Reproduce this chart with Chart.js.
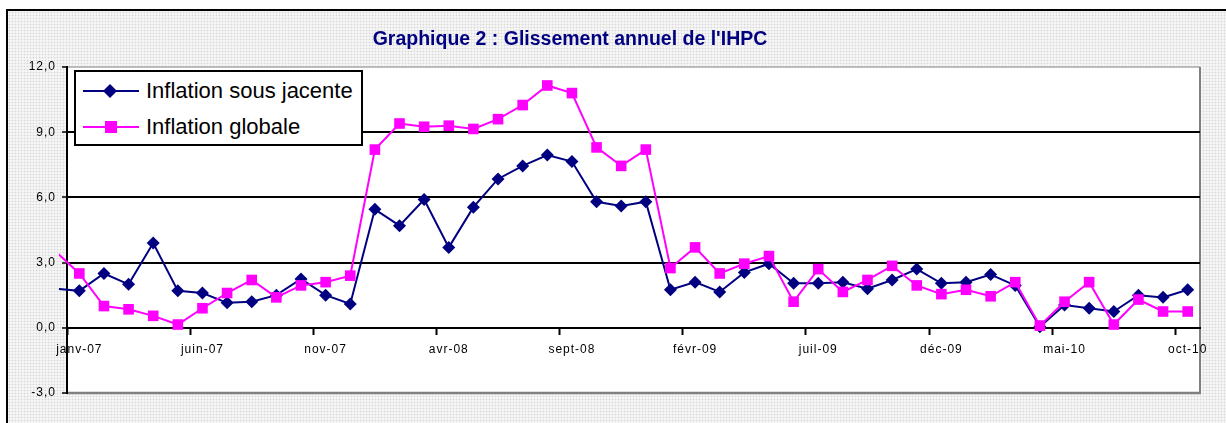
<!DOCTYPE html>
<html lang="fr">
<head>
<meta charset="utf-8">
<title>Graphique 2 : Glissement annuel de l'IHPC</title>
<script src="https://cdn.jsdelivr.net/npm/chart.js@4.4.1/dist/chart.umd.min.js"></script>
<style>
  html, body { margin: 0; padding: 0; background: #fff; }
  body { width: 1226px; height: 423px; position: relative; overflow: hidden;
         font-family: "Liberation Sans", Arial, sans-serif; }
  #frame { position: absolute; left: 6px; top: 9px; width: 1240px; height: 430px;
           border-left: 2px solid #000; border-top: 2px solid #000;
           background-color: #f6f6f6;
           background-image: radial-gradient(circle, #d8d8d8 0.8px, transparent 1.1px);
           background-size: 3px 3px; }
  #chart { position: absolute; left: 0; top: 0; }
  #title { position: absolute; left: 0; width: 1140px; top: 29px; text-align: center;
           font-size: 19.5px; line-height: 19.5px; font-weight: bold; color: #000080; }
  #legend { position: absolute; left: 74px; top: 70px; width: 285px; height: 72px;
            border: 2px solid #000; background: #fff; }
  #legend .item { position: absolute; left: 7px; height: 22px; line-height: 22px;
                  font-size: 22px; color: #000; white-space: nowrap; }
  #legend svg { position: absolute; left: 0; top: 3px; }
  #legend span { position: absolute; left: 63px; top: 0; }
</style>
</head>
<body>
<div id="frame"></div>
<canvas id="chart" width="1226" height="423"></canvas>
<div id="title">Graphique 2 : Glissement annuel de l'IHPC</div>
<div id="legend">
  <div class="item" style="top: 8px;">
    <svg width="56" height="16"><line x1="0" y1="8" x2="56" y2="8" stroke="#000080" stroke-width="2"/><polygon points="27,1 34,8 27,15 20,8" fill="#000080"/></svg>
    <span>Inflation sous jacente</span>
  </div>
  <div class="item" style="top: 44px;">
    <svg width="56" height="16"><line x1="0" y1="8" x2="56" y2="8" stroke="#ff00ff" stroke-width="2"/><rect x="22" y="2" width="12" height="12" fill="#ff00ff"/></svg>
    <span>Inflation globale</span>
  </div>
</div>
<script>
// Mois (déc-06 sert seulement au segment qui entre par la gauche)
const months = [
    'déc-06',
    'janv-07', 'févr-07', 'mars-07', 'avr-07', 'mai-07', 'juin-07', 'juil-07', 'août-07', 'sept-07', 'oct-07', 'nov-07', 'déc-07',
    'janv-08', 'févr-08', 'mars-08', 'avr-08', 'mai-08', 'juin-08', 'juil-08', 'août-08', 'sept-08', 'oct-08', 'nov-08', 'déc-08',
    'janv-09', 'févr-09', 'mars-09', 'avr-09', 'mai-09', 'juin-09', 'juil-09', 'août-09', 'sept-09', 'oct-09', 'nov-09', 'déc-09',
    'janv-10', 'févr-10', 'mars-10', 'avr-10', 'mai-10', 'juin-10', 'juil-10', 'août-10', 'sept-10', 'oct-10'
];

// Inflation sous jacente (%)
const coreInflation = [
    1.8,
    1.7, 2.5, 2.0, 3.9, 1.7, 1.6, 1.15, 1.2, 1.5, 2.25, 1.5, 1.1,
    5.45, 4.7, 5.9, 3.7, 5.55, 6.85, 7.45, 7.95, 7.65, 5.8, 5.6, 5.8,
    1.75, 2.1, 1.65, 2.55, 2.95, 2.05, 2.05, 2.1, 1.8, 2.2, 2.7, 2.05,
    2.1, 2.45, 1.95, 0.05, 1.05, 0.9, 0.75, 1.5, 1.4, 1.75
];

// Inflation globale (%)
const headlineInflation = [
    3.55,
    2.5, 1.0, 0.85, 0.55, 0.15, 0.9, 1.6, 2.2, 1.4, 1.95, 2.1, 2.4,
    8.2, 9.4, 9.25, 9.3, 9.15, 9.6, 10.25, 11.15, 10.8, 8.3, 7.45, 8.2,
    2.75, 3.7, 2.5, 2.95, 3.3, 1.2, 2.7, 1.65, 2.2, 2.85, 1.95, 1.55,
    1.75, 1.45, 2.1, 0.1, 1.2, 2.1, 0.15, 1.3, 0.75, 0.75
];

// Graduations de l'axe vertical
const yMin = -3;
const yMax = 12;
const yStep = 3;

const axisFont = { family: '"Liberation Sans", Arial, sans-serif', size: 12 };

// Fond blanc et bordure grise de la zone de tracé
const plotFrame = {
    id: 'plotFrame',
    beforeUpdate(chart) {
        chart.ctx.letterSpacing = '1px';
    },
    beforeDraw(chart) {
        const { ctx, chartArea: a } = chart;
        ctx.letterSpacing = '1px';
        ctx.save();
        ctx.fillStyle = '#fff';
        ctx.fillRect(a.left, a.top, a.right - a.left, a.bottom - a.top);
        ctx.strokeStyle = '#a8a8a8';
        ctx.lineWidth = 1.5;
        ctx.beginPath();
        ctx.moveTo(a.left, a.top);
        ctx.lineTo(a.right, a.top);
        ctx.stroke();
        ctx.strokeStyle = '#808080';
        ctx.lineWidth = 2;
        ctx.beginPath();
        ctx.moveTo(a.right, a.top);
        ctx.lineTo(a.right, a.bottom);
        ctx.stroke();
        ctx.lineWidth = 2.5;
        ctx.beginPath();
        ctx.moveTo(a.left, a.bottom);
        ctx.lineTo(a.right + 1, a.bottom);
        ctx.stroke();
        ctx.restore();
    }
};

const hiddenFirst = (size) => (ctx) => ctx.dataIndex === 0 ? 0 : size;

new Chart(document.getElementById('chart'), {
    type: 'line',
    data: {
        labels: months,
        datasets: [
            {
                label: 'Inflation globale',
                data: headlineInflation,
                borderColor: '#ff00ff',
                backgroundColor: '#ff00ff',
                borderWidth: 2,
                tension: 0,
                pointStyle: 'rect',
                pointRadius: hiddenFirst(7.5),
                pointBorderWidth: 0,
                clip: { left: 8, top: 0, right: 0, bottom: 0 },
                order: 0
            },
            {
                label: 'Inflation sous jacente',
                data: coreInflation,
                borderColor: '#000080',
                backgroundColor: '#000080',
                borderWidth: 2,
                tension: 0,
                pointStyle: 'rectRot',
                pointRadius: hiddenFirst(6.5),
                pointBorderWidth: 0,
                clip: { left: 8, top: 0, right: 0, bottom: 0 },
                order: 1
            }
        ]
    },
    options: {
        responsive: false,
        animation: false,
        events: [],
        layout: { padding: { left: 10, top: 67, right: 26, bottom: 30 } },
        plugins: {
            legend: { display: false },
            title: { display: false },
            tooltip: { enabled: false }
        },
        scales: {
            x: {
                type: 'category',
                min: 'janv-07',
                offset: true,
                position: { y: 0 },
                border: { display: true, color: '#000', width: 2 },
                grid: {
                    offset: true,
                    drawOnChartArea: false,
                    drawTicks: true,
                    tickLength: 6,
                    tickWidth: 2,
                    tickColor: (ctx) => ctx.index % 5 === 0 ? '#000' : 'rgba(0,0,0,0)'
                },
                ticks: {
                    autoSkip: false,
                    maxRotation: 0,
                    padding: 9,
                    color: '#000',
                    font: axisFont,
                    callback(value, index) {
                        return index % 5 === 0 ? this.getLabelForValue(value) : '';
                    }
                }
            },
            y: {
                min: yMin,
                max: yMax,
                border: { display: true, color: '#000', width: 2 },
                grid: {
                    color: (ctx) => (ctx.tick && (ctx.tick.value === yMax || ctx.tick.value === yMin)) ? 'rgba(0,0,0,0)' : '#000',
                    lineWidth: 2,
                    tickLength: 5,
                    tickColor: '#000',
                    tickWidth: 1.5
                },
                ticks: {
                    stepSize: yStep,
                    padding: 6,
                    color: '#000',
                    font: axisFont,
                    callback: (v) => v.toFixed(1).replace('.', ',')
                },
                afterFit(scale) {
                    scale.width = 57;
                }
            }
        }
    },
    plugins: [plotFrame]
});
</script>
</body>
</html>
